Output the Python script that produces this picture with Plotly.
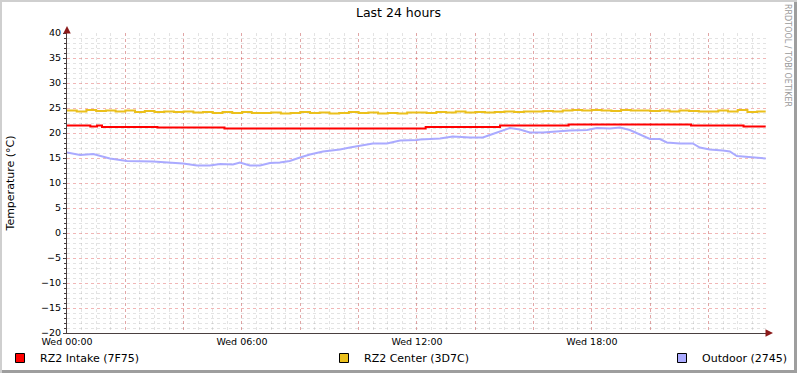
import plotly.graph_objects as go

# ---- data (hours since Wed 00:00) ----
outdoor_hours = [0.0, 0.45, 0.9, 1.23, 1.47, 1.82, 2.06, 2.95, 3.43, 3.98, 4.46, 4.9, 5.25, 5.69,
                 5.93, 6.27, 6.62, 6.96, 7.3, 7.64, 7.99, 8.33, 8.78, 9.36, 9.7, 10.04, 10.49,
                 10.97, 11.42, 12.0, 12.1, 12.79, 13.23, 13.82, 14.26, 14.5, 14.84, 15.19, 15.53,
                 15.87, 16.32, 16.66, 17.24, 17.83, 18.17, 18.62, 18.96, 19.3, 19.64, 19.99,
                 20.33, 20.57, 21.01, 21.46, 21.7, 22.04, 22.49, 22.73, 22.97, 23.31, 23.76, 23.96]
outdoor_temp = [16.1, 15.6, 15.8, 15.3, 14.9, 14.6, 14.4, 14.3, 14.1, 13.9, 13.5, 13.5, 13.8, 13.7,
                14.1, 13.5, 13.5, 14.0, 14.1, 14.4, 15.1, 15.7, 16.3, 16.7, 17.1, 17.4, 17.9,
                17.9, 18.5, 18.6, 18.7, 18.9, 19.3, 19.1, 19.1, 19.6, 20.3, 21.0, 20.7,
                20.1, 20.1, 20.3, 20.5, 20.6, 21.0, 20.9, 21.1, 20.6, 19.7, 18.8,
                18.8, 18.1, 17.9, 17.9, 17.1, 16.7, 16.5, 16.3, 15.4, 15.2, 14.9, 14.9]

intake_hours = [0.0, 0.8, 1.03, 1.2, 3.1, 5.4, 12.3, 14.85, 17.2, 21.4, 23.2, 23.96]
intake_temp = [21.5, 21.3, 21.5, 21.2, 21.1, 20.9, 21.2, 21.5, 21.7, 21.5, 21.3, 21.3]

center_hours = [i / 3 for i in range(72)] + [23.96]
center_temp = [24.5, 24.3, 24.6, 24.4, 24.5, 24.3,
               24.5, 24.2, 24.4, 24.2, 24.3, 24.2,
               24.3, 24.1, 24.2, 24.0, 24.2, 24.0,
               24.2, 24.0, 24.0, 24.1, 23.9, 24.0,
               24.2, 24.0, 24.1, 23.9, 24.0, 24.2,
               24.0, 24.1, 23.9, 24.0, 23.9, 24.1,
               24.1, 24.0, 24.2, 24.1, 24.3, 24.1,
               24.2, 24.1, 24.2, 24.3, 24.2, 24.3,
               24.3, 24.4, 24.3, 24.5, 24.6, 24.5,
               24.6, 24.5, 24.4, 24.6, 24.5, 24.5,
               24.4, 24.5, 24.3, 24.5, 24.4, 24.3,
               24.3, 24.5, 24.3, 24.6, 24.2, 24.3, 24.3]

series_names = ["RZ2 Intake (7F75)", "RZ2 Center (3D7C)", "Outdoor (2745)"]
series_colors = ["#FF0000", "#EBC01C", "#AAAAFF"]

x_tickvals = [0, 2, 4, 6, 8, 10, 12, 14, 16, 18, 20, 22]
x_ticktext = ["Wed 00:00", "", "", "Wed 06:00", "", "", "Wed 12:00", "", "", "Wed 18:00", "", ""]

FONT = "DejaVu Sans"
W, H = 797, 373
L, R, T, B = 67, 766, 33, 333

fig = go.Figure()
data = [(intake_hours, intake_temp, "hv"), (center_hours, center_temp, "hv"),
        (outdoor_hours, outdoor_temp, "linear")]
for (xs, ys, shape), name, col in zip(data, series_names, series_colors):
    fig.add_trace(go.Scatter(x=xs, y=ys, mode="lines", line=dict(color=col, width=2, shape=shape),
                             legendgroup=name, showlegend=False, name=name))
legend_ids = ["legend", "legend2", "legend3"]
for name, col, lid in zip(series_names, series_colors, legend_ids):
    fig.add_trace(go.Scatter(x=[None], y=[None], mode="markers", name=name, legendgroup=name,
                             legend=lid,
                             marker=dict(symbol="square", size=9, color=col,
                                         line=dict(color="black", width=1))))

minor_grid = "rgba(143,143,143,0.25)"
major_grid = "rgba(222,80,80,0.42)"
axis_col = "#4a4040"

def legend_at(xpix):
    return dict(orientation="h", xref="container", yref="container",
                x=xpix / W, y=1 - 358 / H, xanchor="left", yanchor="middle",
                itemwidth=30, bgcolor="rgba(0,0,0,0)",
                font=dict(family=FONT, size=11, color="black"))

fig.update_layout(
    width=W, height=H,
    margin=dict(l=L, r=W - R, t=T, b=H - B, pad=0, autoexpand=False),
    paper_bgcolor="#CFCFCF", plot_bgcolor="rgba(0,0,0,0)",
    font=dict(family=FONT, size=10, color="black"),
    title=dict(text="Last 24 hours", x=0.5, xref="container", xanchor="center",
               y=1 - 13 / H, yref="container", yanchor="middle",
               font=dict(family=FONT, size=12.5, color="black")),
    showlegend=True,
    legend=legend_at(-24), legend2=legend_at(324), legend3=legend_at(662),
    xaxis=dict(range=[0, 23.97], tickvals=x_tickvals, ticktext=x_ticktext,
               showgrid=True, gridcolor=major_grid, griddash="dot", gridwidth=1,
               zeroline=False, showline=True, linecolor=axis_col, linewidth=1,
               ticks="", tickfont=dict(family=FONT, size=9.5, color="black"),
               minor=dict(dtick=0.5, tick0=0, showgrid=True, gridcolor=minor_grid,
                          griddash="dot", gridwidth=1, ticks="")),
    yaxis=dict(range=[-20, 40], dtick=5, tick0=0,
               showgrid=True, gridcolor=major_grid, griddash="dot", gridwidth=1,
               zeroline=False, showline=True, linecolor=axis_col, linewidth=1,
               ticks="outside", ticklen=3, tickcolor=axis_col,
               tickfont=dict(family=FONT, size=9.5, color="black"),
               title=dict(text="Temperature (°C)", standoff=24,
                          font=dict(family=FONT, size=11, color="black")),
               minor=dict(dtick=1, tick0=0, showgrid=True, gridcolor=minor_grid,
                          griddash="dot", gridwidth=1, ticks="outside", ticklen=2,
                          tickcolor=axis_col)),
)

pw, ph = R - L, B - T
def px(xp):
    return (xp - L) / pw
def py(yp):
    return (B - yp) / ph

# frame: white canvas with darker bottom/right shading
fig.add_shape(type="rect", xref="paper", yref="paper", layer="below",
              x0=px(2), x1=px(W), y0=py(H), y1=py(2), fillcolor="#9E9E9E", line_width=0)
fig.add_shape(type="rect", xref="paper", yref="paper", layer="below",
              x0=px(2), x1=px(W - 3), y0=py(H - 3), y1=py(2), fillcolor="white", line_width=0)

# axis arrows
arrow_col = "#8B1A1A"
fig.add_annotation(xref="paper", yref="paper", x=0, y=py(26), ax=0, ay=8, text="",
                   showarrow=True, arrowhead=2, arrowsize=1, arrowwidth=1.5, arrowcolor=arrow_col)
fig.add_annotation(xref="paper", yref="paper", x=px(773), y=0, ax=-8, ay=0, text="",
                   showarrow=True, arrowhead=2, arrowsize=1, arrowwidth=1.5, arrowcolor=arrow_col)

# watermark
fig.add_annotation(xref="paper", yref="paper", x=px(788), y=py(56), text="RRDTOOL / TOBI OETIKER",
                   textangle=90, showarrow=False, xanchor="center", yanchor="middle",
                   font=dict(family=FONT, size=8, color="#9a9a9a"))

fig.write_html("out.html", config={"displayModeBar": False},
               post_script="document.body.style.margin='0';document.body.style.padding='0';"
                           "document.documentElement.style.margin='0';")
